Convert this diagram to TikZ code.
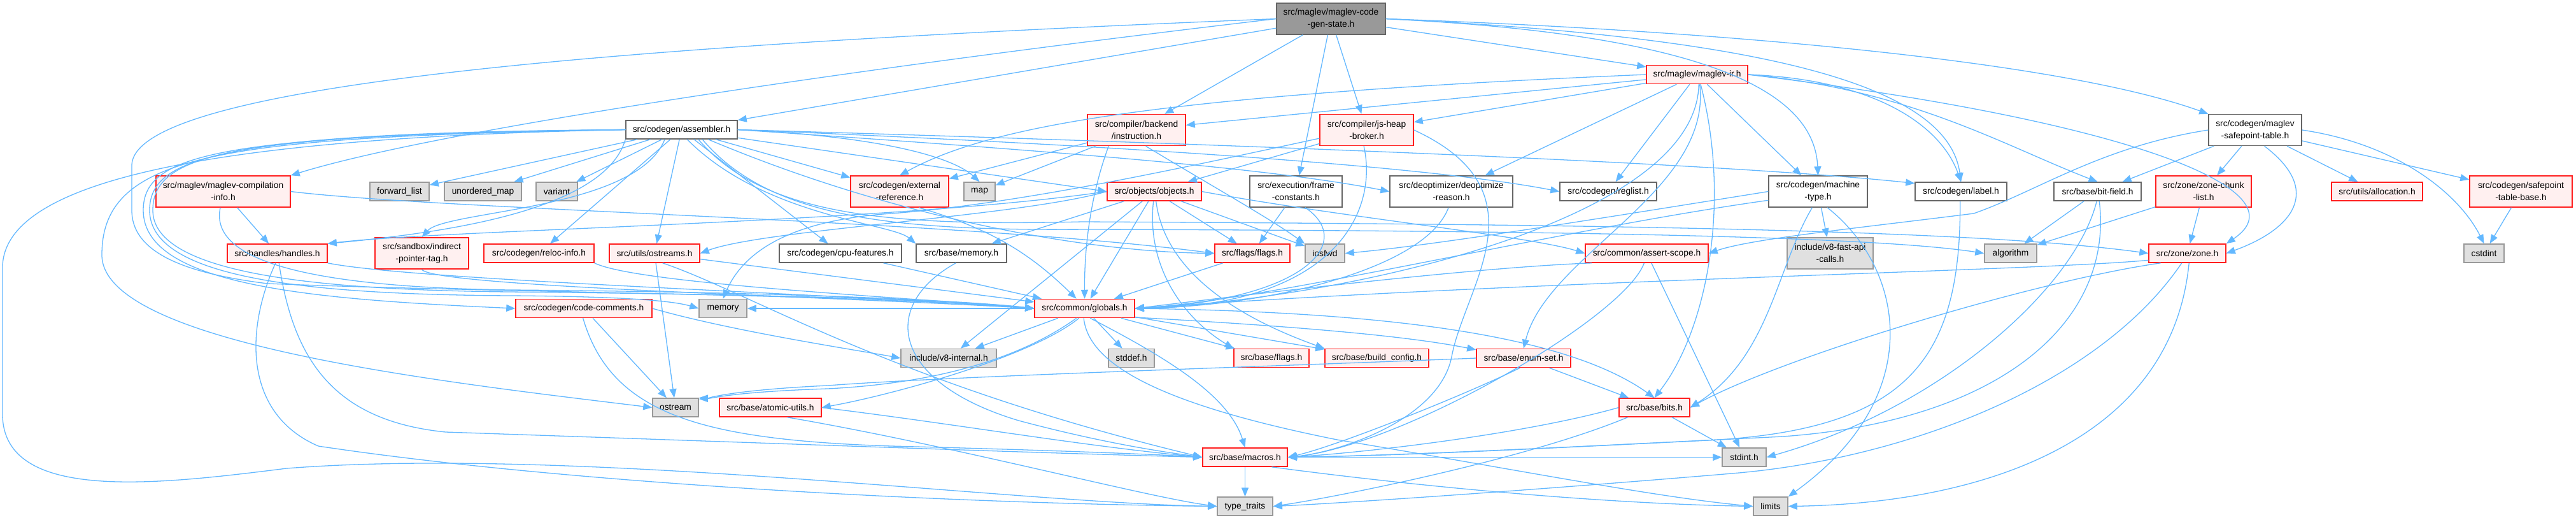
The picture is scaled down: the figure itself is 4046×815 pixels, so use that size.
\documentclass[tikz,border=0pt]{standalone}
\usepackage{fontspec}
\setmainfont{Liberation Sans}
\usetikzlibrary{arrows.meta}
\definecolor{edgeblue}{RGB}{99,184,255}
\definecolor{boxred}{RGB}{255,30,30}
\definecolor{boxredfill}{RGB}{255,240,240}
\definecolor{sysfill}{RGB}{224,224,224}
\definecolor{sysline}{RGB}{153,153,153}
\definecolor{fileline}{RGB}{102,102,102}
\definecolor{topfill}{RGB}{153,153,153}
\newcommand{\hdrfont}{\fontsize{13.8}{19}\selectfont}

\begin{document}
\begin{tikzpicture}[x=1pt,y=1pt,
  filebox/.style={draw=fileline,fill=white,line width=1.5pt,minimum height=29,inner sep=2pt,font=\hdrfont,align=center},
  redbox/.style={filebox,draw=boxred,fill=boxredfill},
  sysbox/.style={filebox,draw=sysline,fill=sysfill},
  topbox/.style={filebox,fill=topfill},
  twoline/.style={minimum height=49},
  incl/.style={draw=edgeblue,line width=1.3pt,-{Triangle[length=14pt,width=11pt]}}]
  \path[fill=white](0,0)rectangle(4046,-815);
  \useasboundingbox(0,0)rectangle(4046,-815);

  \node[topbox,twoline,minimum width=171] (gen) at (2090.5,-29.5) {src/maglev/maglev-code\\-gen-state.h};
  \node[redbox,minimum width=159] (ir) at (2665.5,-117) {src/maglev/maglev-ir.h};
  \node[filebox,minimum width=175] (asm) at (1070.5,-203.5) {src/codegen/assembler.h};
  \node[redbox,twoline,minimum width=154] (instr) at (1785,-204) {src/compiler/backend\\/instruction.h};
  \node[redbox,twoline,minimum width=147] (jsheap) at (2146.5,-204) {src/compiler/js-heap\\-broker.h};
  \node[filebox,twoline,minimum width=146] (msafe) at (3542,-204) {src/codegen/maglev\\-safepoint-table.h};

  \node[redbox,twoline,minimum width=211] (mcinfo) at (350.5,-300.5) {src/maglev/maglev-compilation\\-info.h};
  \node[sysbox,minimum width=93] (fwdlist) at (627.5,-300.5) {forward\_list};
  \node[sysbox,minimum width=121] (umap) at (758.5,-300.5) {unordered\_map};
  \node[sysbox,minimum width=65] (variant) at (874.5,-300.5) {variant};
  \node[redbox,twoline,minimum width=154] (extref) at (1413,-300.5) {src/codegen/external\\-reference.h};
  \node[sysbox,minimum width=49] (map) at (1538.5,-300.5) {map};
  \node[redbox,minimum width=148] (objects) at (1813,-300.5) {src/objects/objects.h};
  \node[filebox,twoline,minimum width=145] (frameconst) at (2035.5,-300.5) {src/execution/frame\\-constants.h};
  \node[filebox,twoline,minimum width=193] (deopt) at (2279.5,-300.5) {src/deoptimizer/deoptimize\\-reason.h};
  \node[filebox,minimum width=152] (reglist) at (2526,-300.5) {src/codegen/reglist.h};
  \node[filebox,twoline,minimum width=155] (machtype) at (2855.5,-300.5) {src/codegen/machine\\-type.h};
  \node[filebox,minimum width=144] (label) at (3080,-300.5) {src/codegen/label.h};
  \node[filebox,minimum width=137] (bitfield) at (3294.5,-300.5) {src/base/bit-field.h};
  \node[redbox,twoline,minimum width=150] (zonechunk) at (3461,-300.5) {src/zone/zone-chunk\\-list.h};
  \node[redbox,minimum width=143] (alloc) at (3733.5,-300.5) {src/utils/allocation.h};
  \node[redbox,twoline,minimum width=161] (spbase) at (3959.5,-300.5) {src/codegen/safepoint\\-table-base.h};

  \node[redbox,minimum width=157] (handles) at (435.5,-397.5) {src/handles/handles.h};
  \node[redbox,twoline,minimum width=147] (sandbox) at (662.5,-397.5) {src/sandbox/indirect\\-pointer-tag.h};
  \node[redbox,minimum width=173] (reloc) at (846.5,-397.5) {src/codegen/reloc-info.h};
  \node[redbox,minimum width=142] (uostreams) at (1028,-397.5) {src/utils/ostreams.h};
  \node[filebox,minimum width=192] (cpufeat) at (1320,-397.5) {src/codegen/cpu-features.h};
  \node[filebox,minimum width=142] (bmemory) at (1510,-397.5) {src/base/memory.h};
  \node[redbox,minimum width=118] (flags) at (1967,-397.5) {src/flags/flags.h};
  \node[sysbox,minimum width=62] (iosfwd) at (2081,-397.5) {iosfwd};
  \node[redbox,minimum width=193] (assert) at (2586.5,-397.5) {src/common/assert-scope.h};
  \node[sysbox,twoline,minimum width=135] (fastapi) at (2874.5,-397.5) {include/v8-fast-api\\-calls.h};
  \node[sysbox,minimum width=82] (algorithm) at (3158,-397.5) {algorithm};
  \node[redbox,minimum width=121] (zone) at (3435.5,-397.5) {src/zone/zone.h};
  \node[sysbox,minimum width=63] (cstdint) at (3901.5,-397.5) {cstdint};

  \node[redbox,minimum width=214] (codecom) at (917,-484) {src/codegen/code-comments.h};
  \node[sysbox,minimum width=75] (memory) at (1135.5,-484) {memory};
  \node[redbox,minimum width=157] (globals) at (1703.5,-484) {src/common/globals.h};
  \node[sysbox,minimum width=150] (v8int) at (1490,-562) {include/v8-internal.h};
  \node[sysbox,minimum width=72] (stddef) at (1777,-562) {stddef.h};
  \node[redbox,minimum width=118] (bflags) at (1997,-562) {src/base/flags.h};
  \node[redbox,minimum width=163] (buildcfg) at (2162.5,-562) {src/base/build\_config.h};
  \node[redbox,minimum width=148] (enumset) at (2393,-562) {src/base/enum-set.h};
  \node[sysbox,minimum width=72] (ostream) at (1061,-639.5) {ostream};
  \node[redbox,minimum width=160] (atomic) at (1210,-639.5) {src/base/atomic-utils.h};
  \node[redbox,minimum width=111] (bits) at (2598.5,-639.5) {src/base/bits.h};
  \node[redbox,minimum width=133] (macros) at (1955.5,-717.5) {src/base/macros.h};
  \node[sysbox,minimum width=69] (stdinth) at (2739.5,-717.5) {stdint.h};
  \node[sysbox,minimum width=87] (typetraits) at (1955.5,-794.5) {type\_traits};
  \node[sysbox,minimum width=54] (limits) at (2781,-794.5) {limits};

  \draw[incl](gen)--(asm); \draw[incl](gen)--(instr); \draw[incl](gen)--(jsheap);
  \draw[incl](gen)--(frameconst); \draw[incl](gen)--(ir);
  \draw[incl](gen.east)..controls(2750,-50)and(3250,-100)..(msafe.north west);
  \draw[incl](gen.east)..controls(2800,-60)and(3060,-140)..(label.north);
  \draw[incl](gen.east)..controls(2700,-55)and(2850,-150)..(machtype.north);
  \draw[incl](gen.west)..controls(1400,-100)and(700,-200)..(mcinfo.north east);
  \draw[incl](gen.west)..controls(1000,-70)and(207,-130)..(207,-260)--(207,-330)..controls(207,-400)and(300,-430)..(420,-445)..controls(800,-460)and(1300,-460)..(globals.west);

  \draw[incl](ir)--(instr); \draw[incl](ir)--(jsheap); \draw[incl](ir)--(deopt);
  \draw[incl](ir)--(reglist); \draw[incl](ir)--(machtype);
  \draw[incl](ir.west)..controls(1800,-150)and(1550,-200)..(extref.north);
  \draw[incl](ir.east)..controls(2950,-125)and(3050,-200)..(label.north);
  \draw[incl](ir.east)..controls(3000,-140)and(3150,-230)..(bitfield.north);
  \draw[incl](ir.east)..controls(3350,-190)and(3620,-300)..(zone.north east);
  \draw[incl](ir.-80)..controls(2665,-350)and(2100,-470)..(globals.east);
  \draw[incl](ir.-75)..controls(2690,-300)and(2430,-400)..(enumset.north);
  \draw[incl](ir.-70)..controls(2720,-320)and(2680,-520)..(bits.north);

  \draw[incl](asm)--(fwdlist); \draw[incl](asm)--(umap); \draw[incl](asm)--(variant);
  \draw[incl](asm)--(extref); \draw[incl](asm)--(objects.west); \draw[incl](asm)--(reloc);
  \draw[incl](asm)--(uostreams); \draw[incl](asm)--(cpufeat);
  \draw[incl](asm.east)..controls(1400,-215)and(1500,-250)..(map.north);
  \draw[incl](asm.east)..controls(1700,-240)and(2000,-265)..(deopt.west);
  \draw[incl](asm.east)..controls(1800,-230)and(2250,-262)..(reglist.west);
  \draw[incl](asm.east)..controls(1900,-225)and(2700,-255)..(label.170);
  \draw[incl](asm.-30)..controls(1200,-340)and(1400,-355)..(1700,-348)..controls(2500,-352)and(3100,-360)..(zone.west);
  \draw[incl](asm.-25)..controls(1210,-345)and(1410,-362)..(1710,-360)..controls(2500,-362)and(2950,-372)..(algorithm.west);
  \draw[incl](asm.-20)..controls(1400,-340)and(1700,-395)..(flags.west);
  \draw[incl](asm.-60)..controls(1200,-340)and(1400,-350)..(bmemory.north west);
  \draw[incl](asm.south west)..controls(950,-330)and(700,-365)..(handles.north east);
  \draw[incl](asm.-150)..controls(1000,-330)and(700,-330)..(sandbox.north);
  \draw[incl](asm.west)..controls(400,-215)and(4,-270)..(4,-420)--(4,-650)..controls(4,-790)and(250,-760)..(450,-735)..controls(900,-700)and(1600,-790)..(typetraits.west);
  \draw[incl](asm.west)..controls(350,-215)and(160,-240)..(160,-400)..controls(160,-540)and(700,-600)..(ostream.west);
  \draw[incl](asm.west)..controls(350,-212)and(225,-240)..(225,-330)..controls(225,-450)and(500,-470)..(codecom.west);
  \draw[incl](asm.west)..controls(350,-210)and(235,-245)..(235,-330)..controls(235,-440)and(500,-462)..(800,-464)..controls(950,-465)and(1050,-470)..(memory.west);
  \draw[incl](asm.west)..controls(350,-208)and(240,-245)..(240,-330)..controls(240,-430)and(500,-455)..(800,-458)..controls(1200,-462)and(1500,-470)..(globals.west);

  \draw[incl](instr)--(extref); \draw[incl](instr)--(map);
  \draw[incl](instr.-150)..controls(1715,-300)and(1703,-380)..(globals.north);
  \draw[incl](instr.-60)..controls(1900,-290)and(1990,-340)..(iosfwd.north west);
  \draw[incl](jsheap)--(objects);
  \draw[incl](jsheap.-100)..controls(2165,-330)and(2100,-480)..(globals.east);
  \draw[incl](jsheap.east)..controls(2430,-300)and(2300,-450)..(2280,-560)..controls(2260,-660)and(2100,-710)..(macros.east);
  \draw[incl](jsheap.-170)..controls(1850,-265)and(1600,-320)..(1400,-335)..controls(1250,-345)and(1170,-390)..(memory.north);
  \draw[incl](mcinfo)--(handles);
  \draw[incl](mcinfo.east)..controls(700,-330)and(1500,-345)..(flags.west);
  \draw[incl](mcinfo.-100)..controls(330,-400)and(450,-450)..(800,-455)..controls(1200,-458)and(1500,-470)..(globals.west);
  \draw[incl](extref.-40)..controls(1560,-360)and(1620,-400)..(globals.130);

  \draw[incl](objects)--(bmemory); \draw[incl](objects)--(v8int); \draw[incl](objects)--(flags);
  \draw[incl](objects)--(iosfwd); \draw[incl](objects)--(globals);
  \draw[incl](objects.-95)..controls(1800,-420)and(1860,-500)..(bflags.north west);
  \draw[incl](objects.-80)..controls(1830,-430)and(1950,-500)..(buildcfg.north west);
  \draw[incl](objects.east)..controls(2100,-340)and(2400,-370)..(assert.west);
  \draw[incl](objects.west)..controls(1600,-340)and(1200,-360)..(uostreams.east);
  \draw[incl](objects.west)..controls(1400,-350)and(700,-360)..(handles.north east);
  \draw[incl](frameconst)--(flags);
  \draw[incl](frameconst.-60)..controls(2130,-380)and(2050,-470)..(globals.east);
  \draw[incl](deopt.-100)..controls(2240,-420)and(2000,-480)..(globals.east);

  \draw[incl](machtype)--(fastapi);
  \draw[incl](machtype.-110)..controls(2790,-420)and(2780,-560)..(bits.east);
  \draw[incl](machtype.west)..controls(2500,-345)and(2250,-385)..(iosfwd.east);
  \draw[incl](machtype.-170)..controls(2450,-360)and(2000,-470)..(globals.east);
  \draw[incl](machtype.-60)..controls(2990,-420)and(3030,-620)..(limits.north east);
  \draw[incl](label.-95)..controls(3080,-560)and(3000,-670)..(2700,-690)..controls(2400,-705)and(2200,-715)..(macros.east);
  \draw[incl](bitfield)--(algorithm);
  \draw[incl](bitfield.-95)..controls(3260,-450)and(3050,-640)..(stdinth.east);
  \draw[incl](bitfield.-80)..controls(3320,-500)and(3150,-660)..(2800,-685)..controls(2500,-700)and(2200,-715)..(macros.east);
  \draw[incl](zonechunk)--(algorithm); \draw[incl](zonechunk)--(zone);

  \draw[incl](zone.-170)..controls(3200,-425)and(2400,-440)..(globals.east);
  \draw[incl](zone.-160)..controls(3200,-440)and(2800,-560)..(bits.east);
  \draw[incl](zone.-80)..controls(3410,-700)and(3100,-790)..(limits.east);
  \draw[incl](zone.-120)..controls(3300,-600)and(3000,-720)..(2720,-743)..controls(2400,-770)and(2100,-790)..(typetraits.east);

  \draw[incl](msafe)--(bitfield); \draw[incl](msafe)--(zonechunk); \draw[incl](msafe)--(alloc);
  \draw[incl](msafe)--(spbase);
  \draw[incl](msafe.-60)..controls(3650,-300)and(3600,-360)..(zone.east);
  \draw[incl](msafe.east)..controls(3760,-225)and(3860,-300)..(cstdint.north);
  \draw[incl](msafe.west)..controls(3300,-230)and(3200,-300)..(3100,-335)..controls(2900,-360)and(2750,-375)..(assert.east);
  \draw[incl](spbase)--(cstdint);

  \draw[incl](assert)--(stdinth);
  \draw[incl](assert.-170)..controls(2300,-420)and(1900,-470)..(globals.east);
  \draw[incl](assert.-105)..controls(2550,-500)and(2200,-700)..(macros.east);
  \draw[incl](handles.south east)..controls(650,-440)and(1300,-460)..(globals.west);
  \draw[incl](handles.-80)..controls(460,-560)and(520,-660)..(700,-678)..controls(1200,-695)and(1600,-710)..(macros.west);
  \draw[incl](handles.-100)..controls(384,-520)and(384,-650)..(500,-700)..controls(900,-760)and(1500,-790)..(typetraits.west);
  \draw[incl](sandbox.south)..controls(680,-450)and(1300,-465)..(globals.west);
  \draw[incl](reloc.south east)..controls(1000,-445)and(1400,-465)..(globals.west);
  \draw[incl](uostreams)--(ostream); \draw[incl](uostreams)--(globals);
  \draw[incl](uostreams.-50)..controls(1180,-460)and(1400,-600)..(macros.west);
  \draw[incl](cpufeat)--(globals); \draw[incl](flags)--(globals);
  \draw[incl](bmemory.-120)..controls(1380,-480)and(1400,-600)..(1600,-660)..controls(1750,-700)and(1850,-712)..(macros.west);

  \draw[incl](codecom)--(ostream);
  \draw[incl](codecom.-95)..controls(960,-650)and(1100,-690)..(1400,-700)..controls(1600,-705)and(1800,-712)..(macros.west);
  \draw[incl](codecom.east)..controls(1150,-520)and(1350,-550)..(v8int.west);
  \draw[incl](globals)--(v8int); \draw[incl](globals)--(stddef); \draw[incl](globals)--(bflags);
  \draw[incl](globals)--(buildcfg); \draw[incl](globals)--(memory);
  \draw[incl](globals.-10)..controls(2000,-510)and(2200,-525)..(enumset.170);
  \draw[incl](globals.east)..controls(2250,-490)and(2480,-540)..(bits.north);
  \draw[incl](globals.-60)..controls(1830,-560)and(1930,-620)..(macros.north);
  \draw[incl](globals.-120)..controls(1620,-560)and(1400,-620)..(atomic.east);
  \draw[incl](globals.-130)..controls(1620,-550)and(1500,-600)..(1300,-610)..controls(1150,-615)and(1120,-625)..(ostream.20);
  \draw[incl](globals.-95)..controls(1710,-580)and(1850,-640)..(2100,-690)..controls(2400,-740)and(2600,-780)..(limits.west);
  \draw[incl](enumset)--(bits);
  \draw[incl](enumset.-110)..controls(2300,-620)and(2100,-700)..(macros.east);
  \draw[incl](enumset.west)..controls(2000,-575)and(1500,-590)..(1300,-605)..controls(1150,-612)and(1110,-625)..(ostream.north east);
  \draw[incl](atomic.east)..controls(1500,-665)and(1700,-700)..(macros.west);
  \draw[incl](atomic.-30)..controls(1500,-700)and(1800,-780)..(typetraits.west);
  \draw[incl](bits)--(stdinth);
  \draw[incl](bits.west)..controls(2400,-680)and(2150,-710)..(macros.east);
  \draw[incl](bits.-160)..controls(2400,-720)and(2100,-780)..(typetraits.east);
  \draw[incl](macros)--(typetraits); \draw[incl](macros)--(stdinth);
  \draw[incl](macros.-20)..controls(2200,-760)and(2500,-790)..(limits.west);
\end{tikzpicture}
\end{document}
